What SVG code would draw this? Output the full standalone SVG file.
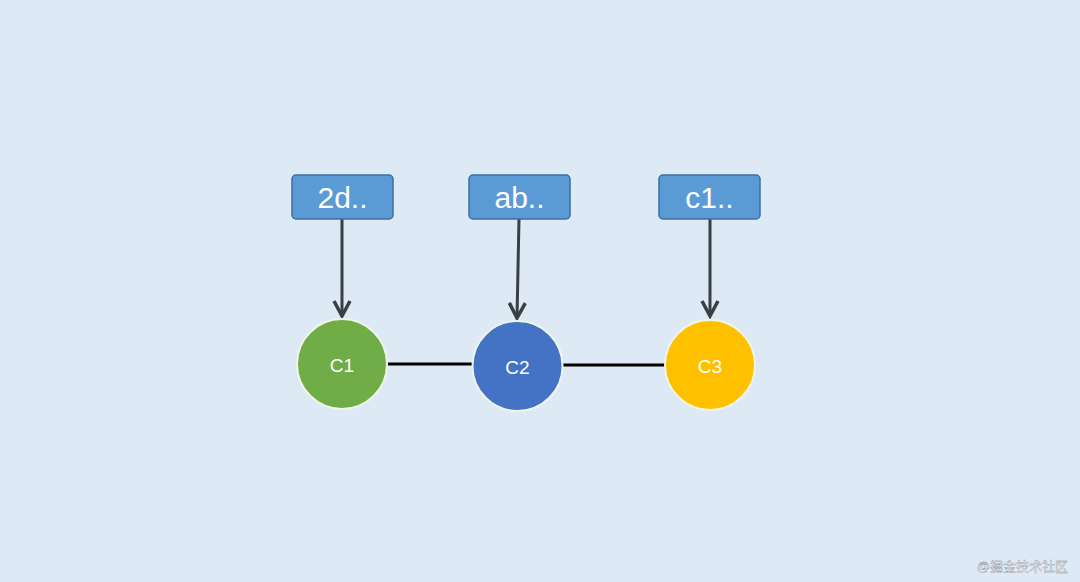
<svg xmlns="http://www.w3.org/2000/svg" width="1080" height="582" viewBox="0 0 1080 582">
<style>
.box{fill:#5b9bd5;stroke:#3f6f9e;stroke-width:1.5}
.bt{font-family:"Liberation Sans",Arial,sans-serif;font-size:30px;fill:#ffffff;text-anchor:middle}
.ct{font-family:"Liberation Sans",Arial,sans-serif;font-size:19px;fill:#ffffff;text-anchor:middle}
.arr{stroke:#3b3f44;stroke-width:3;fill:none}
.link{stroke:#000000;stroke-width:3}
.circ{stroke:#eef5e8;stroke-width:2}
</style>
<defs>
<marker id="ah" markerWidth="20" markerHeight="20" viewBox="0 0 20 20" refX="17" refY="10" orient="auto" markerUnits="userSpaceOnUse">
<path d="M2,2 L17,10 L2,18" fill="none" stroke="#3b3f44" stroke-width="3.5"/>
</marker>
</defs>
<rect width="1080" height="582" fill="#dde9f5"/>
<g id="connectors">
<line class="link" x1="387" y1="364" x2="473" y2="364"/>
<line class="link" x1="562" y1="365" x2="665" y2="365"/>
<line class="arr" x1="342" y1="219" x2="342" y2="316" marker-end="url(#ah)"/>
<line class="arr" x1="519" y1="219" x2="517" y2="318" marker-end="url(#ah)"/>
<line class="arr" x1="710" y1="219" x2="710" y2="316" marker-end="url(#ah)"/>
</g>
<g id="tag1"><rect class="box" x="292" y="175" width="101" height="44" rx="4"/><text class="bt" x="342.5" y="208">2d..</text></g>
<g id="tag2"><rect class="box" x="469" y="175" width="101" height="44" rx="4"/><text class="bt" x="519.5" y="208">ab..</text></g>
<g id="tag3"><rect class="box" x="659" y="175" width="101" height="44" rx="4"/><text class="bt" x="709.5" y="208">c1..</text></g>
<g id="c1"><circle class="circ" cx="342" cy="364" r="45" fill="#70ad47"/><text class="ct" x="342" y="372">C1</text></g>
<g id="c2"><circle class="circ" cx="517.5" cy="366" r="45" fill="#4472c4"/><text class="ct" x="517.5" y="374">C2</text></g>
<g id="c3"><circle class="circ" cx="710" cy="365" r="45" fill="#ffc000"/><text class="ct" x="710" y="373">C3</text></g>
<text x="1068" y="571" font-family="'Liberation Sans','Noto Sans CJK SC',sans-serif" font-size="13" fill="#ffffff" text-anchor="end" stroke="#8a9099" stroke-width="0.4">@掘金技术社区</text>
</svg>
